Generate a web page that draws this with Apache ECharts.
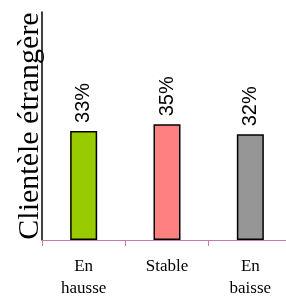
<!DOCTYPE html>
<html>
<head>
<meta charset="utf-8">
<script src="https://cdn.jsdelivr.net/npm/echarts@6/dist/echarts.min.js"></script>
<style>
  html, body { margin: 0; padding: 0; background: #ffffff; }
  #chart { width: 286px; height: 297px; }
</style>
</head>
<body>
<div id="chart"></div>
<script>
const categories = ['En\nhausse', 'Stable', 'En\nbaisse']
const values = [33, 35, 32]
const barColors = ['#99cc00', '#ff8080', '#969696']
const axisTitle = 'Clientèle étrangère'

const chart = echarts.init(document.getElementById('chart'))
chart.setOption({
  backgroundColor: '#ffffff',
  animation: false,
  grid: {
    left: 42,
    right: -6,
    top: 12,
    bottom: 57,
    outerBoundsMode: 'none'
  },
  xAxis: {
    type: 'category',
    data: categories,
    axisLine: { lineStyle: { color: '#cc77aa', width: 1 } },
    axisTick: { show: true, length: 6, lineStyle: { color: '#cc77aa' } },
    axisLabel: {
      margin: 16,
      color: '#000000',
      fontFamily: 'Liberation Serif',
      fontSize: 17,
      lineHeight: 22
    }
  },
  yAxis: {
    type: 'value',
    min: 0,
    max: 69,
    name: axisTitle,
    nameLocation: 'middle',
    nameRotate: 90,
    nameGap: -3,
    nameTextStyle: {
      color: '#000000',
      fontFamily: 'Liberation Serif',
      fontSize: 30
    },
    axisLine: { show: true, lineStyle: { color: '#000000', width: 1.5 } },
    axisTick: { show: false },
    axisLabel: { show: false },
    splitLine: { show: false }
  },
  series: [
    {
      type: 'bar',
      barWidth: 27,
      data: values.map((v, i) => ({
        value: v,
        itemStyle: { color: barColors[i] }
      })),
      itemStyle: {
        borderColor: '#000000',
        borderWidth: 1.5
      },
      label: {
        show: true,
        position: 'top',
        rotate: 90,
        align: 'left',
        verticalAlign: 'middle',
        distance: 8,
        formatter: '{c}%',
        color: '#000000',
        fontFamily: 'Liberation Sans',
        fontSize: 20
      }
    }
  ]
})
</script>
</body>
</html>
